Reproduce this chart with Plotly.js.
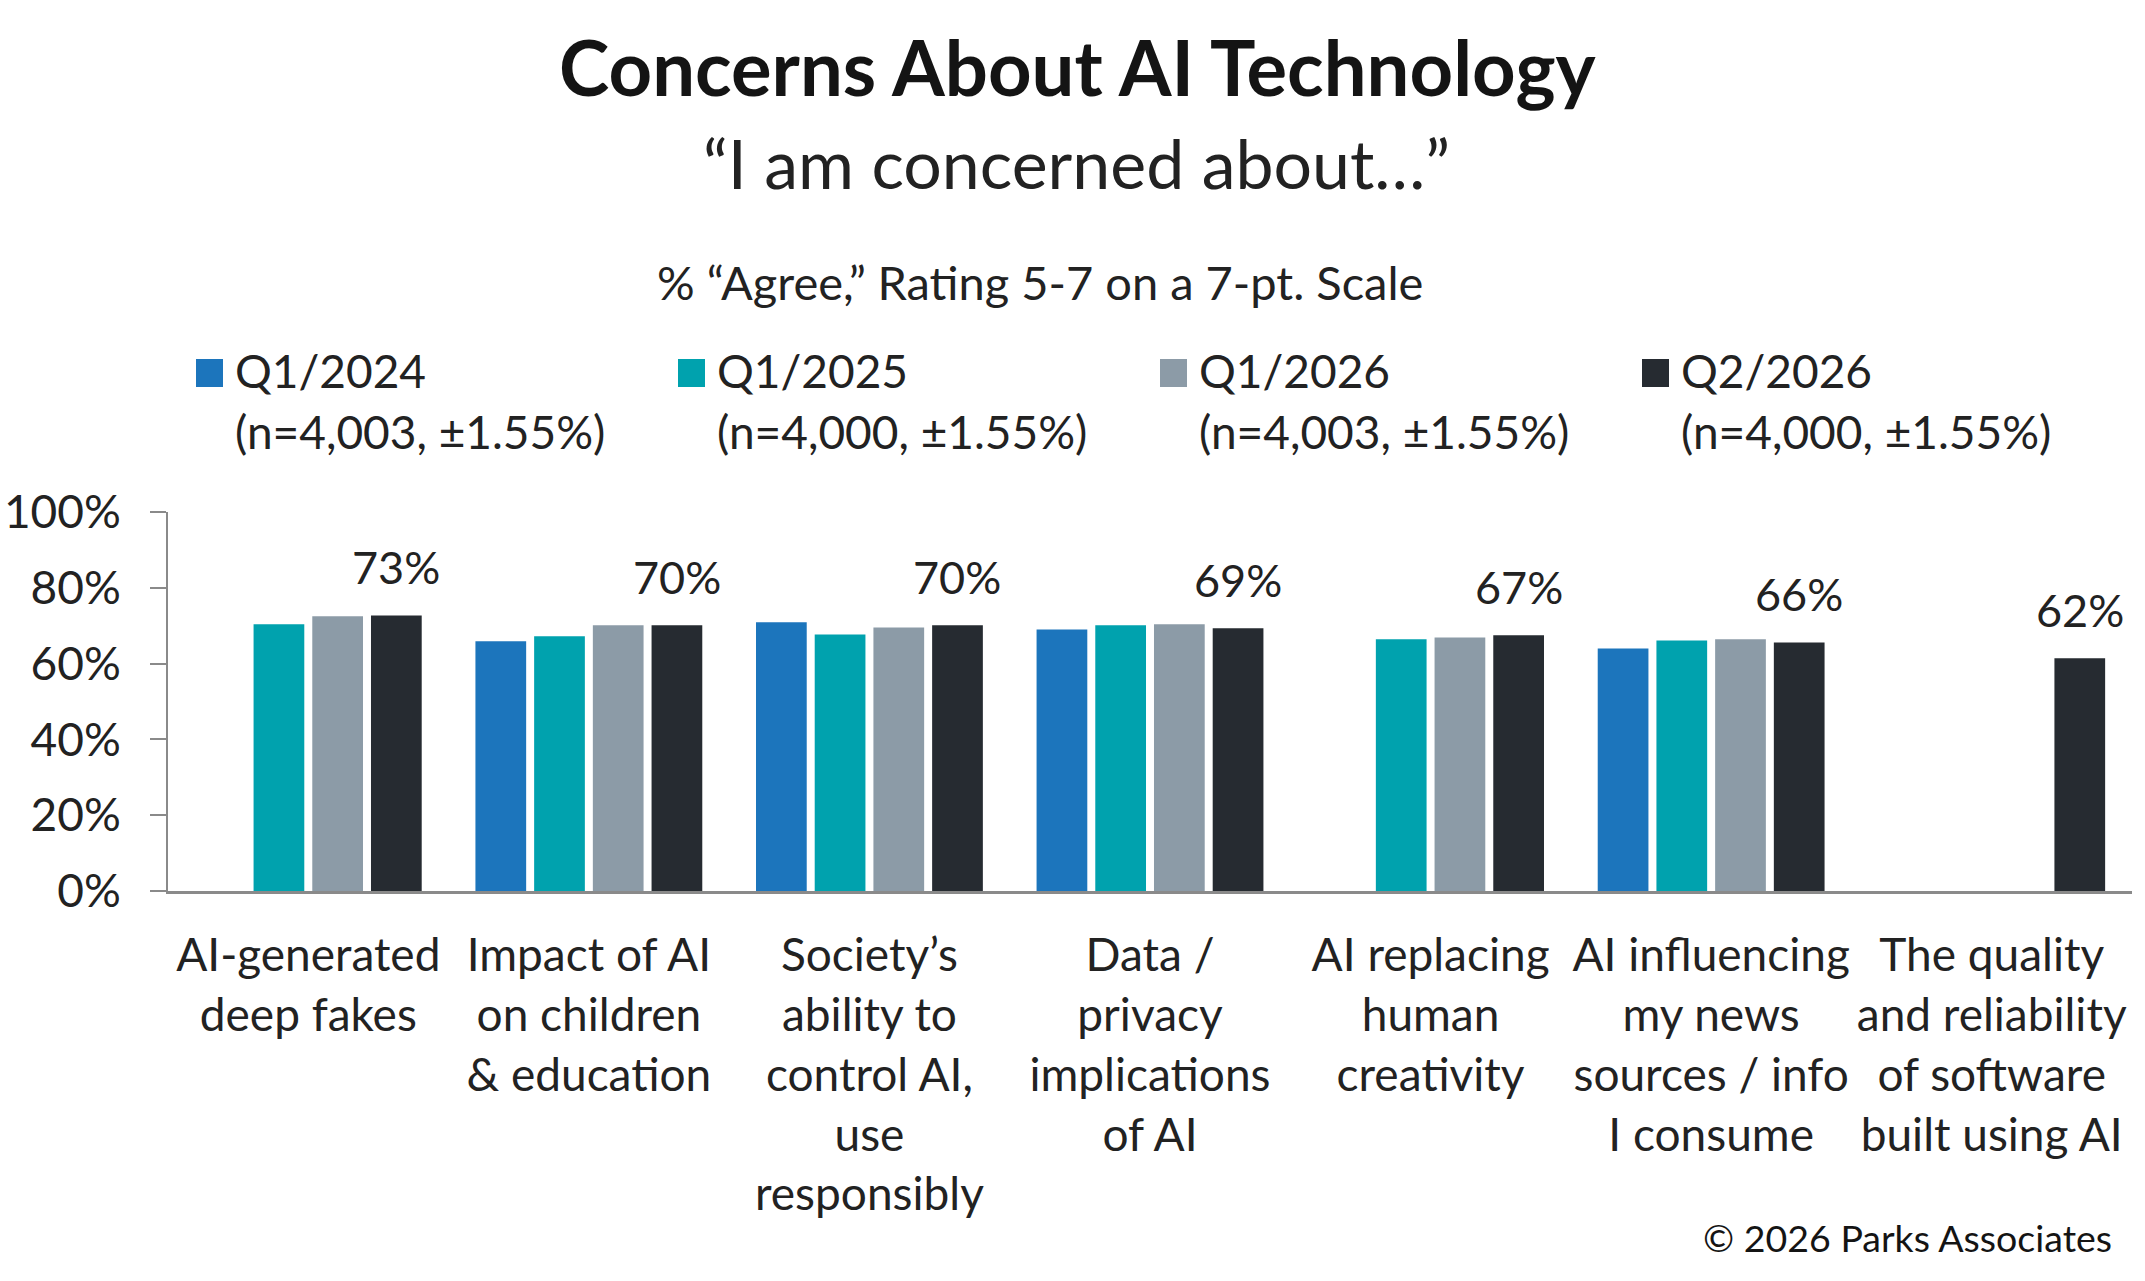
<!DOCTYPE html>
<html>
<head>
<meta charset="utf-8">
<script src="https://cdn.plot.ly/plotly-3.0.1.min.js"></script>
<style>
html,body{margin:0;padding:0;background:#fff;}
#chart{width:2145px;height:1281px;}
</style>
</head>
<body>
<div id="chart"></div>
<script>
// ---- data ----
const categories = [
  'AI-generated<br>deep fakes',
  'Impact of AI<br>on children<br>&amp; education',
  'Society’s<br>ability to<br>control AI,<br>use<br>responsibly',
  'Data /<br>privacy<br>implications<br>of AI',
  'AI replacing<br>human<br>creativity',
  'AI influencing<br>my news<br>sources / info<br>I consume',
  'The quality<br>and reliability<br>of software<br>built using AI'
];
const seriesNames = ['Q1/2024', 'Q1/2025', 'Q1/2026', 'Q2/2026'];
const sampleNotes = ['(n=4,003, ±1.55%)', '(n=4,000, ±1.55%)', '(n=4,003, ±1.55%)', '(n=4,000, ±1.55%)'];
const q1_2024 = [null, 65.9, 70.9, 69.0, null, 64.0, null];
const q1_2025 = [70.4, 67.2, 67.7, 70.1, 66.4, 66.1, null];
const q1_2026 = [72.5, 70.1, 69.5, 70.4, 66.9, 66.4, null];
const q2_2026 = [72.7, 70.1, 70.1, 69.3, 67.5, 65.6, 61.4];
const q2Labels = ['73%', '70%', '70%', '69%', '67%', '66%', '62%'];
const yTickVals = [0, 20, 40, 60, 80, 100];
const yTickText = ['0%', '20%', '40%', '60%', '80%', '100%'];

// ---- style / layout ----
const seriesValues = [q1_2024, q1_2025, q1_2026, q2_2026];
const colors = ['#1c75bc', '#00a2ae', '#8c9ba7', '#262b31'];
const W = 2145, H = 1281;
const M = {l: 168, r: 13, t: 512, b: 390};
const PW = W - M.l - M.r, PH = H - M.t - M.b;
const px2x = p => (p - M.l) / PW;
const py2y = p => (H - M.b - p) / PH;
const FONT = 'Lato, "Open Sans", sans-serif';
const TXT = '#222222';
const FS = 46;
const BARGAP = 0.163;

const traces = seriesNames.map((n, i) => ({
  type: 'bar',
  name: n,
  x: categories,
  y: seriesValues[i],
  marker: {color: colors[i]},
  showlegend: false,
  hoverinfo: 'skip'
}));

const annotations = [];
// data labels above Q2/2026 bars (4th bar of each group)
const lastOffset = (1 - BARGAP) * 0.375;
q2_2026.forEach((v, i) => {
  annotations.push({
    x: i + lastOffset, y: v, xref: 'x', yref: 'y',
    text: q2Labels[i], showarrow: false,
    xanchor: 'center', yanchor: 'middle', yshift: 48,
    font: {family: FONT, size: 45, color: TXT}
  });
});
// titles
annotations.push({xref: 'paper', yref: 'paper', x: px2x(1078), y: py2y(66), xanchor: 'center', yanchor: 'middle',
  text: '<b>Concerns About AI Technology</b>', showarrow: false, font: {family: FONT, size: 76, color: '#141414', weight: 900}});
annotations.push({xref: 'paper', yref: 'paper', x: px2x(1076), y: py2y(162), xanchor: 'center', yanchor: 'middle',
  text: '“I am concerned about…”', showarrow: false, font: {family: FONT, size: 68, color: TXT}});
annotations.push({xref: 'paper', yref: 'paper', x: px2x(1040), y: py2y(282), xanchor: 'center', yanchor: 'middle',
  text: '% “Agree,” Rating 5-7 on a 7-pt. Scale', showarrow: false, font: {family: FONT, size: 47, color: TXT}});
annotations.push({xref: 'paper', yref: 'paper', x: px2x(2114), y: py2y(1237), xanchor: 'right', yanchor: 'middle',
  text: '© 2026 Parks Associates', showarrow: false, font: {family: FONT, size: 37.5, color: '#141414'}});

// legend (custom, text + swatches)
const shapes = [];
const LEG_X0 = 196, LEG_PITCH = 482;
seriesNames.forEach((n, i) => {
  const sx = LEG_X0 + i * LEG_PITCH;
  shapes.push({type: 'rect', xref: 'paper', yref: 'paper',
    x0: px2x(sx), x1: px2x(sx + 27), y0: py2y(387), y1: py2y(359),
    fillcolor: colors[i], line: {width: 0}});
  annotations.push({xref: 'paper', yref: 'paper', x: px2x(sx + 37), y: py2y(370), xanchor: 'left', yanchor: 'middle',
    text: n, showarrow: false, font: {family: FONT, size: FS, color: TXT}});
  annotations.push({xref: 'paper', yref: 'paper', x: px2x(sx + 37), y: py2y(431), xanchor: 'left', yanchor: 'middle',
    text: sampleNotes[i], showarrow: false, font: {family: FONT, size: FS, color: TXT}});
});

const layout = {
  width: W, height: H,
  margin: M,
  paper_bgcolor: '#ffffff', plot_bgcolor: '#ffffff',
  barmode: 'group', bargap: BARGAP, bargroupgap: 0.136,
  font: {family: FONT, size: FS, color: TXT},
  showlegend: false,
  xaxis: {
    type: 'category', showline: true, linecolor: '#8a8a8a', linewidth: 3,
    ticks: '', showgrid: false, zeroline: false, fixedrange: true,
    tickfont: {family: FONT, size: FS, color: TXT}, ticklabelstandoff: 22
  },
  yaxis: {
    range: [0, 100], tickvals: yTickVals, ticktext: yTickText,
    showline: true, linecolor: '#8a8a8a', linewidth: 2,
    ticks: 'outside', ticklen: 16, tickwidth: 2, tickcolor: '#8a8a8a',
    showgrid: false, zeroline: false, fixedrange: true,
    tickfont: {family: FONT, size: FS, color: TXT}, ticklabelstandoff: 20
  },
  annotations: annotations,
  shapes: shapes
};

Plotly.newPlot('chart', traces, layout, {displayModeBar: false, staticPlot: true});
</script>
</body>
</html>
